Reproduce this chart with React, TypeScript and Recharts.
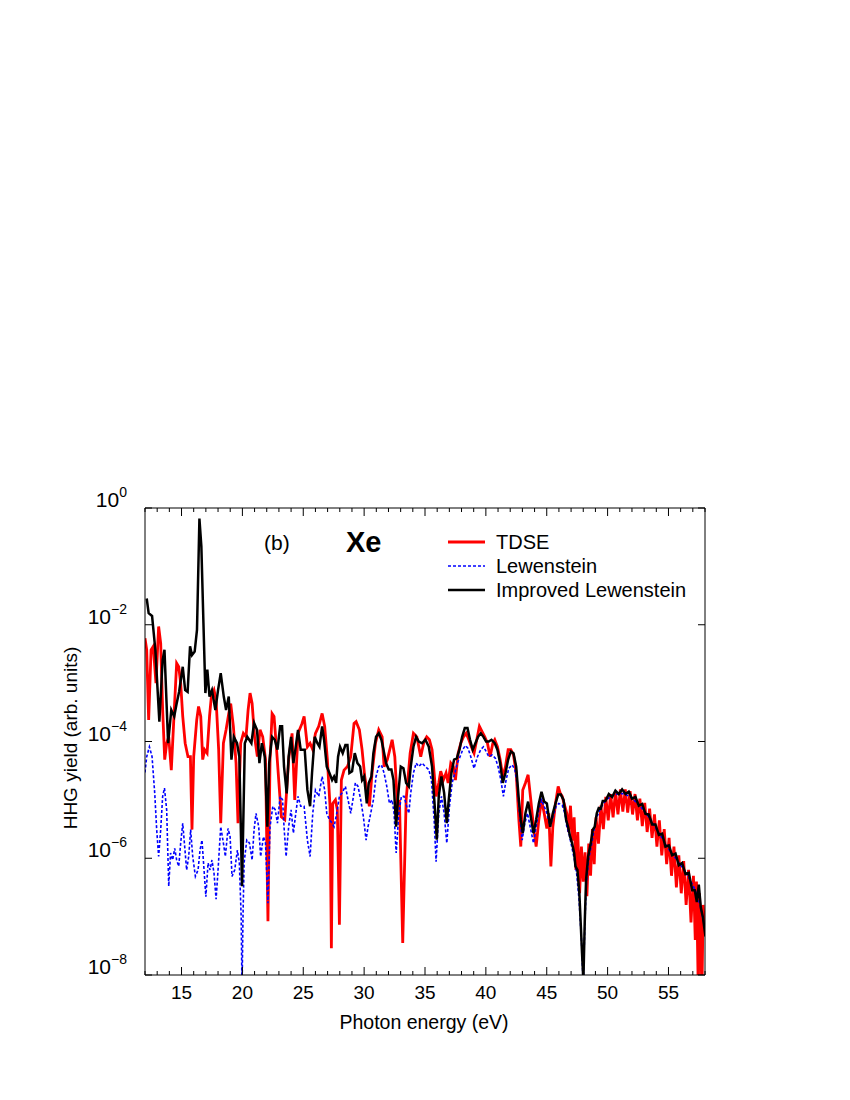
import { LineChart, Line, XAxis, YAxis, Legend, Customized } from "recharts";

// [photon energy (eV), log10 of HHG yield]
const tdseLog: [number, number][] = [
  [12.0, -2.23], [12.14, -2.43], [12.3, -3.63], [12.5, -2.43], [12.68, -2.37], [12.9, -3.0],
  [13.12, -2.03], [13.29, -2.32], [13.45, -3.46], [13.62, -4.31], [13.78, -4.03], [13.95, -3.92],
  [14.16, -4.49], [14.38, -3.57], [14.6, -2.66], [14.77, -2.72], [14.93, -3.0], [15.1, -3.57],
  [15.3, -4.03], [15.53, -4.26], [15.73, -4.26], [15.86, -5.51], [16.0, -4.26], [16.25, -3.63],
  [16.4, -3.4], [16.58, -3.57], [16.74, -4.31], [16.9, -4.14], [17.1, -4.2], [17.3, -3.57],
  [17.45, -3.23], [17.67, -3.12], [17.84, -3.29], [18.05, -4.14], [18.22, -5.4], [18.44, -4.03],
  [18.66, -3.8], [18.88, -3.52], [19.04, -3.35], [19.26, -3.74], [19.48, -4.37], [19.64, -5.4],
  [19.86, -4.03], [20.08, -3.86], [20.3, -3.92], [20.47, -3.46], [20.63, -3.17], [20.8, -3.35],
  [21.0, -3.92], [21.23, -4.26], [21.45, -3.8], [21.67, -3.92], [21.9, -4.31], [22.1, -7.08],
  [22.27, -4.31], [22.44, -3.52], [22.6, -3.57], [22.77, -4.03], [23.0, -4.71], [23.2, -5.29],
  [23.48, -5.34], [23.8, -4.31], [24.08, -3.86], [24.3, -5.0], [24.57, -3.86], [24.9, -3.69],
  [25.07, -3.57], [25.34, -4.09], [25.56, -4.03], [25.78, -4.14], [26.0, -3.86], [26.27, -3.74],
  [26.55, -3.52], [26.76, -3.74], [26.98, -4.31], [27.2, -5.11], [27.31, -7.54], [27.42, -5.06],
  [27.64, -5.0], [27.8, -5.17], [27.97, -7.14], [28.13, -4.66], [28.35, -4.49], [28.63, -4.43],
  [28.9, -4.26], [29.17, -3.69], [29.34, -3.66], [29.61, -3.8], [29.83, -4.14], [30.05, -4.6],
  [30.43, -5.11], [30.65, -4.54], [30.93, -4.03], [31.2, -3.8], [31.48, -3.92], [31.64, -4.43],
  [31.91, -4.31], [32.3, -3.97], [32.52, -4.26], [32.74, -5.11], [32.9, -5.0], [33.17, -7.45],
  [33.45, -5.0], [33.78, -4.2], [34.05, -3.86], [34.33, -3.92], [34.65, -4.26], [34.92, -4.0],
  [35.14, -3.92], [35.36, -3.97], [35.58, -4.14], [35.75, -4.54], [35.91, -4.94], [36.13, -4.71],
  [36.29, -4.51], [36.51, -4.66], [36.73, -4.54], [36.9, -4.71], [37.12, -4.37], [37.33, -4.43],
  [37.5, -4.66], [37.72, -4.2], [37.94, -4.03], [38.16, -3.92], [38.38, -3.86], [38.6, -3.97],
  [38.81, -4.09], [39.03, -4.2], [39.25, -3.97], [39.47, -3.74], [39.69, -3.83], [39.91, -3.92],
  [40.13, -4.03], [40.35, -4.26], [40.57, -4.03], [40.73, -3.97], [40.95, -4.09], [41.17, -4.31],
  [41.39, -4.6], [41.61, -4.43], [41.83, -4.14], [42.05, -4.14], [42.27, -4.23], [42.49, -4.54],
  [42.71, -5.34], [42.87, -5.8], [43.03, -4.83], [43.25, -4.71], [43.47, -4.57], [43.69, -5.0],
  [43.91, -5.46], [44.13, -5.8], [44.35, -5.34], [44.57, -5.0], [44.79, -5.23], [45.01, -5.49],
  [45.17, -5.23], [45.34, -6.14], [45.5, -5.46], [45.72, -5.06], [45.94, -4.77], [46.1, -4.88],
  [46.27, -4.94], [46.49, -5.11], [46.65, -5.23], [46.8, -5.55], [46.95, -5.1], [47.1, -5.7],
  [47.25, -5.3], [47.4, -6.2], [47.55, -5.55], [47.7, -6.6], [47.85, -5.8], [48.0, -6.4],
  [48.15, -5.9], [48.3, -6.65], [48.45, -5.75], [48.6, -6.3], [48.75, -5.5], [48.9, -6.1],
  [49.05, -5.3], [49.25, -5.75], [49.45, -5.1], [49.65, -5.5], [49.85, -4.95], [50.05, -5.35],
  [50.25, -4.9], [50.45, -5.3], [50.65, -4.85], [50.85, -5.25], [51.05, -4.82], [51.25, -5.2],
  [51.45, -4.82], [51.65, -5.22], [51.85, -4.85], [52.05, -5.25], [52.25, -4.9], [52.45, -5.35],
  [52.65, -4.98], [52.85, -5.45], [53.05, -5.05], [53.25, -5.55], [53.45, -5.15], [53.65, -5.65],
  [53.85, -5.25], [54.05, -5.8], [54.25, -5.35], [54.45, -5.95], [54.65, -5.5], [54.85, -6.1],
  [55.05, -5.65], [55.25, -6.3], [55.45, -5.8], [55.65, -6.5], [55.85, -5.95], [56.05, -6.6],
  [56.25, -6.05], [56.45, -6.8], [56.65, -6.2], [56.85, -7.1], [57.05, -6.3], [57.2, -7.4],
  [57.3, -6.4], [57.45, -8.3], [57.55, -6.6], [57.75, -8.3], [57.85, -6.8], [58.0, -7.3],
];

const lewensteinLog: [number, number][] = [
  [12.0, -4.53], [12.14, -4.26], [12.36, -4.09], [12.58, -4.26], [12.8, -4.89], [12.96, -5.51],
  [13.12, -5.97], [13.29, -5.51], [13.45, -4.94], [13.6, -4.8], [13.78, -5.17], [13.95, -6.48],
  [14.1, -5.91], [14.27, -6.03], [14.44, -5.83], [14.6, -6.03], [14.77, -6.14], [14.93, -5.74],
  [15.1, -5.4], [15.26, -5.8], [15.42, -6.2], [15.59, -5.97], [15.75, -5.51], [15.92, -5.97],
  [16.14, -6.31], [16.36, -6.2], [16.52, -5.86], [16.68, -5.69], [16.85, -6.2], [17.0, -6.66],
  [17.18, -6.08], [17.34, -6.2], [17.5, -6.03], [17.67, -6.26], [17.84, -6.7], [18.0, -6.2],
  [18.22, -5.46], [18.44, -5.74], [18.6, -5.97], [18.82, -5.49], [18.99, -5.63], [19.15, -6.31],
  [19.37, -6.2], [19.59, -5.86], [19.75, -6.08], [19.9, -7.0], [19.97, -8.3], [20.05, -7.0],
  [20.14, -6.08], [20.36, -5.69], [20.58, -5.74], [20.8, -6.03], [20.96, -5.51], [21.12, -5.23],
  [21.34, -5.46], [21.5, -5.97], [21.73, -5.63], [21.9, -5.74], [22.1, -6.77], [22.27, -5.46],
  [22.5, -5.11], [22.7, -5.17], [22.88, -5.4], [23.1, -4.94], [23.3, -5.0], [23.42, -5.46],
  [23.59, -5.97], [23.8, -5.46], [24.0, -5.17], [24.19, -5.57], [24.35, -5.29], [24.57, -4.94],
  [24.79, -5.11], [25.07, -5.11], [25.34, -5.69], [25.56, -5.97], [25.78, -5.23], [26.0, -4.83],
  [26.27, -4.94], [26.55, -4.6], [26.76, -4.83], [26.93, -5.23], [27.15, -5.34], [27.37, -5.4],
  [27.53, -5.46], [27.75, -5.23], [27.97, -4.94], [28.19, -4.88], [28.46, -4.77], [28.68, -5.0],
  [28.9, -5.23], [29.12, -4.94], [29.28, -4.71], [29.5, -4.77], [29.72, -5.0], [29.94, -5.29],
  [30.16, -5.69], [30.32, -5.46], [30.54, -5.23], [30.76, -5.0], [30.98, -4.6], [31.2, -4.43],
  [31.42, -4.4], [31.64, -4.54], [31.86, -4.77], [32.08, -5.06], [32.3, -5.0], [32.46, -5.23],
  [32.63, -5.91], [32.85, -5.23], [33.06, -4.94], [33.28, -4.94], [33.5, -5.11], [33.67, -5.23],
  [33.83, -4.88], [34.05, -4.54], [34.27, -4.37], [34.49, -4.43], [34.76, -4.37], [35.03, -4.43],
  [35.31, -4.48], [35.53, -4.66], [35.75, -5.34], [35.91, -6.06], [36.13, -5.23], [36.35, -4.94],
  [36.57, -5.23], [36.79, -5.74], [37.01, -5.11], [37.23, -4.71], [37.45, -4.54], [37.66, -4.37],
  [37.88, -4.26], [38.1, -4.14], [38.32, -4.07], [38.54, -4.12], [38.76, -4.26], [39.03, -4.46],
  [39.31, -4.26], [39.58, -4.14], [39.8, -4.09], [40.02, -4.17], [40.24, -4.26], [40.51, -4.23],
  [40.79, -4.29], [41.0, -4.43], [41.23, -4.66], [41.44, -4.94], [41.66, -4.66], [41.88, -4.46],
  [42.16, -4.4], [42.38, -4.48], [42.6, -4.77], [42.76, -5.23], [42.98, -5.69], [43.2, -5.4],
  [43.42, -5.23], [43.64, -5.46], [43.91, -5.74], [44.13, -5.46], [44.35, -5.17], [44.57, -5.0],
  [44.79, -5.11], [45.01, -5.23], [45.28, -5.46], [45.5, -5.29], [45.77, -5.11], [45.99, -5.06],
  [46.27, -5.09], [46.49, -5.23], [46.65, -5.46], [46.85, -5.6], [47.05, -5.8], [47.25, -6.0],
  [47.45, -6.25], [47.65, -6.7], [47.85, -7.4], [48.0, -8.2], [48.12, -7.2], [48.25, -6.45],
  [48.45, -6.0], [48.65, -5.8], [48.85, -5.55], [49.1, -5.3], [49.4, -5.15], [49.7, -5.05],
  [50.0, -4.98], [50.4, -4.93], [50.8, -4.9], [51.2, -4.89], [51.6, -4.92], [52.0, -4.97],
  [52.4, -5.05], [52.8, -5.14], [53.2, -5.24], [53.6, -5.36], [54.0, -5.5], [54.4, -5.63],
  [54.8, -5.77], [55.2, -5.9], [55.6, -6.0], [56.0, -6.12], [56.4, -6.23], [56.8, -6.38],
  [57.2, -6.55], [57.6, -6.8], [58.0, -7.2],
];

const improvedLog: [number, number][] = [
  [12.14, -1.55], [12.3, -1.8], [12.58, -1.85], [12.85, -2.43], [13.18, -3.66], [13.45, -2.6],
  [13.6, -2.43], [13.9, -4.03], [14.16, -3.46], [14.4, -3.57], [14.6, -3.35], [14.8, -3.15],
  [15.1, -2.72], [15.3, -3.12], [15.5, -3.15], [15.7, -2.37], [15.86, -2.52], [16.08, -2.46],
  [16.27, -2.09], [16.47, -0.18], [16.63, -0.66], [16.8, -1.97], [16.96, -3.17], [17.12, -2.77],
  [17.3, -3.23], [17.5, -3.12], [17.78, -3.46], [18.0, -3.12], [18.22, -2.83], [18.47, -3.23],
  [18.66, -3.46], [18.88, -3.23], [19.1, -4.31], [19.3, -3.92], [19.56, -4.03], [19.75, -4.26],
  [19.97, -6.48], [20.2, -4.03], [20.4, -3.92], [20.74, -4.03], [20.96, -3.68], [21.2, -3.8],
  [21.4, -4.37], [21.6, -4.03], [21.84, -4.26], [22.05, -5.46], [22.2, -4.37], [22.44, -3.92],
  [22.66, -3.97], [22.88, -4.14], [23.1, -3.74], [23.26, -3.74], [23.42, -4.43], [23.64, -4.89],
  [23.8, -4.26], [24.0, -3.92], [24.19, -4.37], [24.35, -4.14], [24.57, -3.8], [24.79, -4.14],
  [25.12, -4.14], [25.34, -4.83], [25.56, -5.11], [25.72, -4.54], [25.94, -3.92], [26.16, -4.03],
  [26.33, -4.09], [26.55, -3.74], [26.71, -3.97], [26.93, -4.43], [27.15, -4.54], [27.37, -4.66],
  [27.53, -4.6], [27.7, -4.71], [27.86, -4.26], [28.02, -4.09], [28.24, -4.2], [28.46, -4.06],
  [28.63, -4.06], [28.79, -4.54], [29.01, -4.51], [29.23, -4.2], [29.45, -4.37], [29.67, -4.43],
  [29.83, -4.66], [30.0, -4.6], [30.22, -5.06], [30.38, -4.71], [30.6, -4.6], [30.76, -4.2],
  [30.98, -3.92], [31.2, -3.86], [31.42, -3.97], [31.59, -4.14], [31.8, -4.37], [32.02, -4.48],
  [32.24, -4.48], [32.41, -4.66], [32.63, -5.46], [32.79, -4.94], [33.01, -4.43], [33.23, -4.46],
  [33.45, -4.71], [33.67, -4.77], [33.83, -4.43], [34.05, -4.09], [34.27, -3.92], [34.49, -4.0],
  [34.76, -4.03], [35.03, -3.97], [35.31, -4.09], [35.58, -4.43], [35.8, -5.11], [35.97, -5.68],
  [36.13, -4.94], [36.35, -4.6], [36.57, -4.88], [36.79, -5.4], [36.95, -5.0], [37.17, -4.54],
  [37.39, -4.31], [37.61, -4.29], [37.83, -4.14], [38.05, -3.92], [38.27, -3.77], [38.49, -3.77],
  [38.7, -3.97], [38.92, -4.14], [39.14, -4.03], [39.36, -3.92], [39.58, -3.86], [39.8, -3.92],
  [40.02, -4.0], [40.24, -4.0], [40.46, -3.97], [40.73, -4.03], [40.95, -4.14], [41.17, -4.37],
  [41.39, -4.71], [41.61, -4.54], [41.83, -4.31], [42.05, -4.17], [42.27, -4.2], [42.49, -4.43],
  [42.71, -5.0], [42.87, -5.34], [43.03, -5.57], [43.25, -5.23], [43.47, -5.03], [43.69, -5.29],
  [43.91, -5.57], [44.13, -5.34], [44.35, -5.06], [44.57, -4.86], [44.79, -5.03], [45.01, -5.06],
  [45.28, -5.46], [45.5, -5.23], [45.72, -5.06], [45.94, -4.91], [46.16, -4.91], [46.38, -5.0],
  [46.59, -5.34], [46.75, -5.46], [46.92, -5.63], [47.08, -5.74], [47.25, -5.91], [47.36, -6.14],
  [47.52, -6.2], [47.68, -6.6], [47.79, -7.11], [47.9, -7.63], [48.01, -8.1], [48.12, -7.11],
  [48.23, -6.37], [48.4, -5.97], [48.62, -5.74], [48.78, -5.51], [48.94, -5.46], [49.11, -5.23],
  [49.27, -5.14], [49.44, -5.15], [49.6, -5.02], [49.82, -5.02], [50.1, -4.9], [50.37, -4.95],
  [50.64, -4.84], [50.92, -4.9], [51.19, -4.82], [51.47, -4.9], [51.74, -4.86], [52.01, -4.98],
  [52.29, -4.95], [52.56, -5.1], [52.84, -5.07], [53.11, -5.24], [53.38, -5.25], [53.66, -5.42],
  [53.93, -5.42], [54.21, -5.6], [54.48, -5.58], [54.75, -5.8], [55.03, -5.78], [55.3, -5.95],
  [55.58, -5.92], [55.85, -6.12], [56.12, -6.08], [56.4, -6.27], [56.67, -6.25], [56.95, -6.55],
  [57.16, -6.55], [57.33, -6.75], [57.49, -6.45], [57.66, -6.85], [57.82, -7.0], [58.04, -7.34],
];

const xTicks = [
  12, 13, 14, 15, 16, 17, 18, 19, 20, 21, 22, 23, 24, 25, 26, 27, 28, 29, 30, 31, 32, 33, 34, 35,
  36, 37, 38, 39, 40, 41, 42, 43, 44, 45, 46, 47, 48, 49, 50, 51, 52, 53, 54, 55, 56, 57, 58,
];
const yTicks = [1e-8, 1e-6, 1e-4, 1e-2, 1];

const toPoints = (arr: [number, number][]) => arr.map(([e, lg]) => ({ e, y: Math.pow(10, lg) }));

const series = [
  { name: "TDSE", data: toPoints(tdseLog), color: "#ff0000", width: 2.8, dash: undefined },
  { name: "Lewenstein", data: toPoints(lewensteinLog), color: "#0000ff", width: 1.6, dash: "3 2" },
  { name: "Improved Lewenstein", data: toPoints(improvedLog), color: "#000000", width: 2.5, dash: undefined },
];

const FONT = '"Liberation Sans", Arial, Helvetica, sans-serif';

function BottomTick({ x, y, payload }: any) {
  const v = payload.value;
  const major = v % 5 === 0;
  return (
    <g>
      <line x1={x} x2={x} y1={y} y2={y - (major ? 8 : 4)} stroke="#000" />
      {major && (
        <text x={x} y={y + 24} textAnchor="middle" fontSize={19} fill="#000">
          {v}
        </text>
      )}
    </g>
  );
}

function TopTick({ x, y, payload }: any) {
  const major = payload.value % 5 === 0;
  return <line x1={x} x2={x} y1={y} y2={y + (major ? 8 : 4)} stroke="#000" />;
}

function LeftTick({ x, y, payload }: any) {
  const exp = Math.round(Math.log10(payload.value));
  return (
    <g>
      <line x1={x} x2={x + 7} y1={y} y2={y} stroke="#000" />
      <text x={x - 18} y={y - 1} textAnchor="end" fontSize={21} fill="#000">
        <tspan>10</tspan>
        <tspan dy={-10} fontSize={14}>
          {exp === 0 ? "0" : "\u2212" + Math.abs(exp)}
        </tspan>
      </text>
    </g>
  );
}

function RightTick({ x, y }: any) {
  return <line x1={x} x2={x - 7} y1={y} y2={y} stroke="#000" />;
}

function LegendBox() {
  return (
    <div style={{ fontFamily: FONT, fontSize: 20, color: "#000" }}>
      {series.map((s) => (
        <div key={s.name} style={{ display: "flex", alignItems: "center", height: 24 }}>
          <svg width={37} height={6}>
            <line x1={0} x2={37} y1={3} y2={3} stroke={s.color} strokeWidth={s.width} strokeDasharray={s.dash} />
          </svg>
          <span style={{ marginLeft: 11, whiteSpace: "nowrap" }}>{s.name}</span>
        </div>
      ))}
    </div>
  );
}

function Annotations() {
  return (
    <g fill="#000" style={{ fontFamily: FONT }}>
      <text x={264} y={550} fontSize={21}>(b)</text>
      <text x={346} y={552} fontSize={29} fontWeight="bold">Xe</text>
      <text x={424} y={1029} textAnchor="middle" fontSize={19.5}>Photon energy (eV)</text>
      <text transform="rotate(-90)" x={-738} y={77} textAnchor="middle" fontSize={19}>
        HHG yield (arb. units)
      </text>
    </g>
  );
}

export default function App() {
  return (
    <div style={{ position: "absolute", left: 0, top: 0, width: 850, height: 1100, background: "#fff", fontFamily: FONT }}>
      <LineChart width={850} height={1100} margin={{ top: 507, right: 144, bottom: 124, left: 144 }}>
        <XAxis
          xAxisId="b"
          type="number"
          dataKey="e"
          domain={[12, 58]}
          allowDataOverflow
          ticks={xTicks}
          interval={0}
          height={1}
          tickSize={0}
          tickMargin={0}
          tickLine={false}
          axisLine={{ stroke: "#000" }}
          tick={<BottomTick />}
        />
        <XAxis
          xAxisId="t"
          orientation="top"
          type="number"
          dataKey="e"
          domain={[12, 58]}
          allowDataOverflow
          ticks={xTicks}
          interval={0}
          height={1}
          tickSize={0}
          tickMargin={0}
          tickLine={false}
          axisLine={{ stroke: "#000" }}
          tick={<TopTick />}
        />
        <YAxis
          yAxisId="l"
          type="number"
          scale="log"
          domain={[1e-8, 1]}
          allowDataOverflow
          ticks={yTicks}
          interval={0}
          width={1}
          tickSize={0}
          tickMargin={0}
          tickLine={false}
          axisLine={{ stroke: "#000" }}
          tick={<LeftTick />}
        />
        <YAxis
          yAxisId="r"
          orientation="right"
          type="number"
          scale="log"
          domain={[1e-8, 1]}
          allowDataOverflow
          ticks={yTicks}
          interval={0}
          width={1}
          tickSize={0}
          tickMargin={0}
          tickLine={false}
          axisLine={{ stroke: "#000" }}
          tick={<RightTick />}
        />
        {series.map((s) => (
          <Line
            key={s.name}
            xAxisId="b"
            yAxisId="l"
            data={s.data}
            dataKey="y"
            name={s.name}
            type="linear"
            stroke={s.color}
            strokeWidth={s.width}
            strokeDasharray={s.dash}
            dot={false}
            activeDot={false}
            isAnimationActive={false}
          />
        ))}
        <Legend
          layout="vertical"
          align="center"
          verticalAlign="middle"
          wrapperStyle={{ position: "absolute", left: 448, top: 530, width: "auto", height: "auto" }}
          content={() => <LegendBox />}
        />
        <Customized component={Annotations} />
      </LineChart>
    </div>
  );
}
